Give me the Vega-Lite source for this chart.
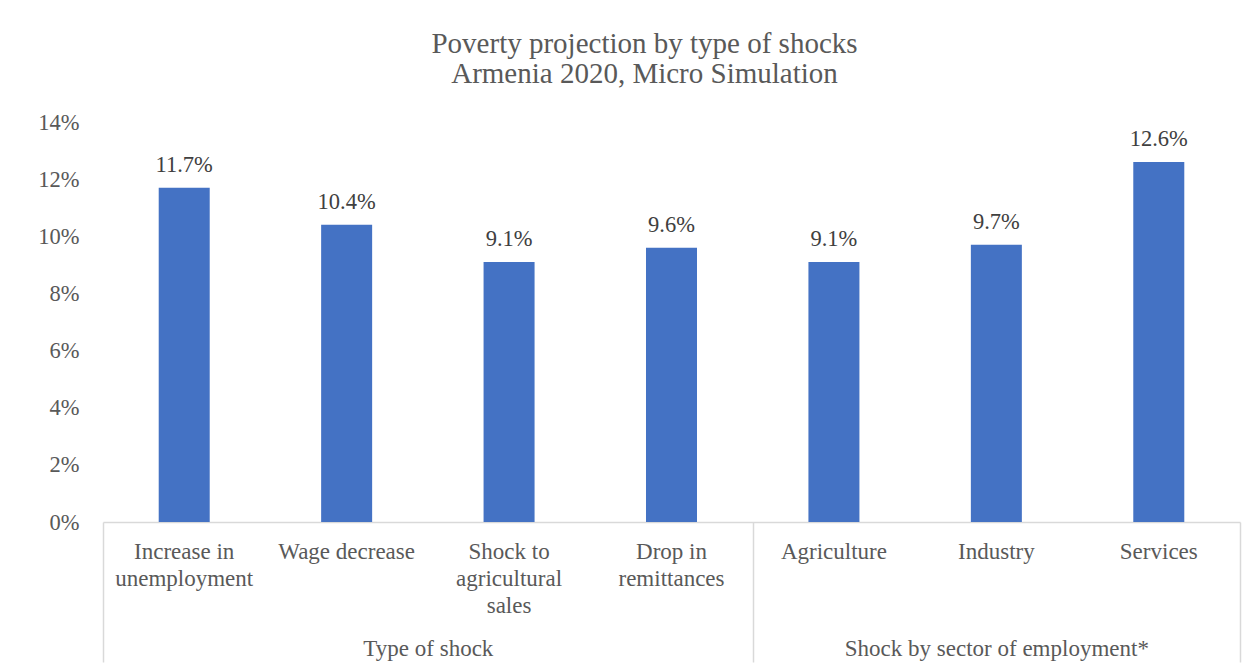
{
  "$schema": "https://vega.github.io/schema/vega-lite/v6.json",
  "width": 1137,
  "height": 400,
  "autosize": {"type": "none"},
  "padding": {"left": 103, "top": 122, "right": 11, "bottom": 147},
  "background": "white",
  "title": {
    "text": ["Poverty projection by type of shocks", "Armenia 2020, Micro Simulation"],
    "font": "Liberation Serif",
    "fontSize": 29,
    "fontWeight": "normal",
    "color": "#595959",
    "anchor": "middle",
    "frame": "group",
    "dx": -27,
    "lineHeight": 30,
    "offset": 22
  },
  "config": {
    "view": {"stroke": null},
    "font": "Liberation Serif",
    "text": {"font": "Liberation Serif"},
    "axis": {"labelFont": "Liberation Serif", "labelColor": "#595959", "grid": false}
  },
  "resolve": {"scale": {"x": "independent"}, "axis": {"x": "independent"}},
  "layer": [
    {
      "data": {
        "values": [
          {"shock": "Increase in unemployment", "rate": 0.117},
          {"shock": "Wage decrease", "rate": 0.104},
          {"shock": "Shock to agricultural sales", "rate": 0.091},
          {"shock": "Drop in remittances", "rate": 0.096},
          {"shock": "Agriculture", "rate": 0.091},
          {"shock": "Industry", "rate": 0.097},
          {"shock": "Services", "rate": 0.126}
        ]
      },
      "encoding": {
        "x": {
          "field": "shock",
          "type": "nominal",
          "sort": null,
          "scale": {"paddingInner": 0.686, "paddingOuter": 0.343},
          "axis": {
            "title": null,
            "orient": "bottom",
            "ticks": false,
            "domain": true,
            "domainColor": "#D9D9D9",
            "domainWidth": 1.5,
            "labelAngle": 0,
            "labelFont": "Liberation Serif",
            "labelFontSize": 23,
            "labelPadding": 18,
            "labelLineHeight": 27,
            "labelBaseline": "top",
            "labelLimit": 300,
            "labelOverlap": false,
            "labelExpr": "datum.value == 'Increase in unemployment' ? ['Increase in', 'unemployment'] : datum.value == 'Shock to agricultural sales' ? ['Shock to', 'agricultural', 'sales'] : datum.value == 'Drop in remittances' ? ['Drop in', 'remittances'] : datum.label"
          }
        },
        "y": {
          "field": "rate",
          "type": "quantitative",
          "scale": {"domain": [0, 0.14], "nice": false},
          "axis": {
            "title": null,
            "format": ".0%",
            "values": [0, 0.02, 0.04, 0.06, 0.08, 0.1, 0.12, 0.14],
            "ticks": false,
            "domain": false,
            "labelFont": "Liberation Serif",
            "labelFontSize": 22.5,
            "labelPadding": 24
          }
        }
      },
      "layer": [
        {"mark": {"type": "bar", "color": "#4472C4"}},
        {
          "mark": {"type": "text", "font": "Liberation Serif", "fontSize": 22.5, "color": "#404040", "baseline": "alphabetic", "dy": -16},
          "encoding": {"text": {"field": "rate", "type": "quantitative", "format": ".1%"}}
        }
      ]
    },
    {
      "data": {
        "values": [
          {"group": "Type of shock", "categories": 4},
          {"group": "Shock by sector of employment*", "categories": 3}
        ]
      },
      "mark": {"type": "bar", "opacity": 0},
      "encoding": {
        "x": {
          "field": "categories",
          "type": "quantitative",
          "stack": "zero",
          "scale": {"domain": [0, 7], "nice": false, "zero": true},
          "axis": {
            "title": null,
            "orient": "bottom",
            "domain": false,
            "grid": false,
            "values": [0, 2, 4, 5.5, 7],
            "ticks": true,
            "tickSize": 140,
            "tickColor": "#D9D9D9",
            "tickWidth": 1.5,
            "tickOpacity": {"condition": {"test": "datum.value == 2 || datum.value == 5.5", "value": 0}, "value": 1},
            "labelFont": "Liberation Serif",
            "labelFontSize": 23,
            "labelPadding": -25,
            "labelBaseline": "top",
            "labelFlush": false,
            "labelOverlap": false,
            "labelLimit": 500,
            "labelExpr": "datum.value == 2 ? 'Type of shock' : datum.value == 5.5 ? 'Shock by sector of employment*' : ''"
          }
        },
        "detail": {"field": "group"}
      }
    }
  ]
}
